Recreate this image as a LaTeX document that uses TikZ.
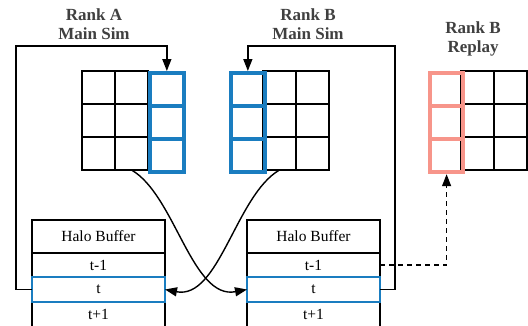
\documentclass[tikz,border=0pt]{standalone}
\usepackage{fontspec}
\setmainfont{Liberation Serif}
\usetikzlibrary{arrows.meta}
\definecolor{cblue}{HTML}{1A7DC0}
\definecolor{cpink}{HTML}{F7958A}
\definecolor{ctitle}{HTML}{404040}
\begin{document}
\begin{tikzpicture}[x=1pt,y=-1pt,
  cell/.style={draw=black,line width=1.5pt,minimum width=33pt,minimum height=33pt,inner sep=0pt,outer sep=0pt,anchor=north west},
  bluecell/.style={draw=cblue,line width=4.2pt,minimum width=33.5pt,minimum height=33pt,inner sep=0pt,anchor=north west},
  pinkcell/.style={draw=cpink,line width=4.2pt,minimum width=33pt,minimum height=33pt,inner sep=0pt,anchor=north west},
  title/.style={font=\fontsize{17}{18.5}\selectfont\bfseries,text=ctitle,align=center},
  bufrow/.style={draw=black,line width=1.5pt,minimum width=133pt,inner sep=0pt,outer sep=0pt,anchor=north west,font=\fontsize{15.5}{17}\selectfont},
  conn/.style={draw=black,line width=1.4pt},
  tip/.style={-{Triangle[length=12pt,width=9pt]}}]
\useasboundingbox (0,0) rectangle (528,325);

% titles
\node[title] (tA) at (94,24) {Rank A\\Main Sim};
\node[title] (tB) at (308,24) {Rank B\\Main Sim};
\node[title] (tR) at (473,39) {Rank B\\Replay};

% grid A
\foreach \r [evaluate=\r as \yy using 71+33*(\r-1)] in {1,2,3} {
  \node[cell] (gA-1-\r) at (82,\yy) {};
  \node[cell] (gA-2-\r) at (115,\yy) {};
}
\foreach \r [evaluate=\r as \yy using 71+33*(\r-1)] in {1,2,3}
  \node[bluecell] (bA-\r) at (148,\yy) {};

% grid B
\foreach \r [evaluate=\r as \yy using 71+33*(\r-1)] in {1,2,3} {
  \node[cell] (gB-2-\r) at (263,\yy) {};
  \node[cell] (gB-3-\r) at (296,\yy) {};
}
\foreach \r [evaluate=\r as \yy using 71+33*(\r-1)] in {1,2,3}
  \node[bluecell] (bB-\r) at (229,\yy) {};

% replay grid
\foreach \r [evaluate=\r as \yy using 71+33*(\r-1)] in {1,2,3} {
  \node[cell] (gR-2-\r) at (461,\yy) {};
  \node[cell] (gR-3-\r) at (494,\yy) {};
}
\foreach \r [evaluate=\r as \yy using 71+33*(\r-1)] in {1,2,3}
  \node[pinkcell] (pR-\r) at (428,\yy) {};

% halo buffer A
\node[bufrow,minimum height=33pt] (hA) at (32,220) {Halo Buffer};
\node[bufrow,minimum height=24pt] (hAm) at (32,253) {t-1};
\node[bufrow,minimum height=25pt] (hAp) at (32,302) {t+1};
\node[bufrow,minimum height=25pt,draw=cblue] (hAt) at (32,277) {t};

% halo buffer B
\node[bufrow,minimum height=33pt] (hB) at (247,220) {Halo Buffer};
\node[bufrow,minimum height=24pt] (hBm) at (247,253) {t-1};
\node[bufrow,minimum height=25pt] (hBp) at (247,302) {t+1};
\node[bufrow,minimum height=25pt,draw=cblue] (hBt) at (247,277) {t};

% loop connectors
\coordinate (topA) at (16,46);
\coordinate (topB) at (395,46);
\draw[conn,tip] (hAt.west) -| (topA) -| (bA-1.north);
\draw[conn,tip] (hBt.east) -| (topB) -| (bB-1.north);

% crossing curves
\draw[conn,tip] (gA-2-3.south) .. controls (175,195) and (192,300) .. (hBt.west);
\draw[conn,tip] (gB-2-3.south) .. controls (236,195) and (219,300) .. (hAt.east);

% dashed to replay
\draw[conn,tip,dash pattern=on 5pt off 4pt] (hBm.east) -| (pR-3.south);
\end{tikzpicture}
\end{document}
